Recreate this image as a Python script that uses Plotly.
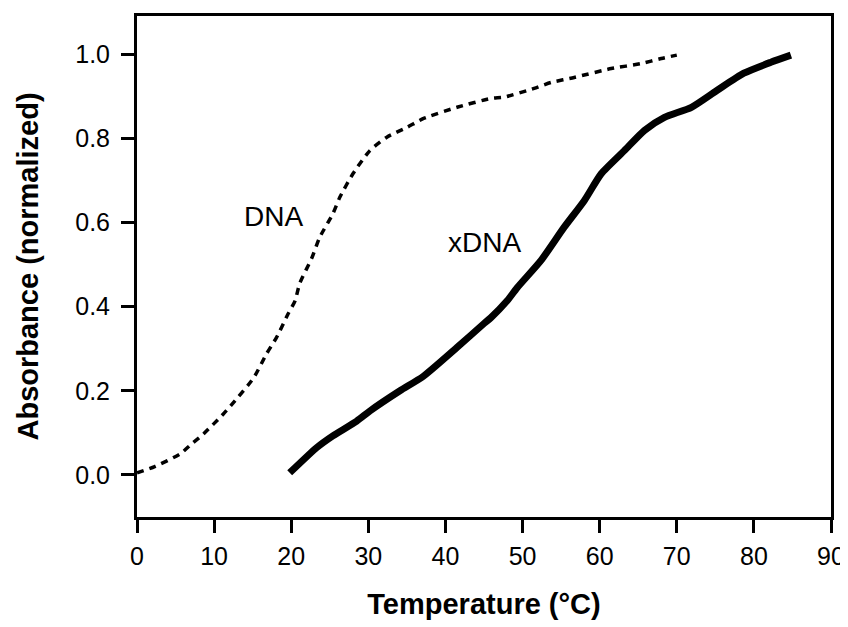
import plotly.graph_objects as go

# DNA melting curve (dashed)
dna_temp = [0.0, 2.3, 5.6, 7.1, 8.6, 11.2, 12.5, 15.1, 16.8, 18.1, 19.6, 20.5, 21.1, 22.7, 23.7,
            25.4, 26.3, 28.0, 30.2, 32.4, 35.0, 37.1, 41.5, 45.9, 47.6, 51.5, 53.7, 56.7, 61.5,
            65.4, 68.0, 70.0]
dna_abs = [0.005, 0.02, 0.05, 0.074, 0.097, 0.145, 0.172, 0.23, 0.288, 0.327, 0.383, 0.414, 0.455,
           0.517, 0.565, 0.621, 0.66, 0.716, 0.771, 0.803, 0.826, 0.847, 0.874, 0.895, 0.898,
           0.919, 0.933, 0.945, 0.966, 0.978, 0.99, 0.998]

# xDNA melting curve (thick solid)
xdna_temp = [19.8, 23.3, 25.4, 28.5, 30.2, 34.1, 37.1, 41.5, 45.0, 45.9, 48.0, 49.3, 52.4, 55.4,
             58.0, 60.2, 63.2, 65.8, 68.4, 71.9, 75.2, 78.7, 82.2, 84.8]
xdna_abs = [0.005, 0.065, 0.093, 0.128, 0.152, 0.2, 0.234, 0.303, 0.36, 0.374, 0.414, 0.445, 0.51,
            0.589, 0.652, 0.716, 0.771, 0.819, 0.85, 0.874, 0.914, 0.955, 0.981, 0.998]

x_ticks = [0, 10, 20, 30, 40, 50, 60, 70, 80, 90]
y_ticks = [0.0, 0.2, 0.4, 0.6, 0.8, 1.0]

FONT = "Liberation Sans, Arial, Helvetica, sans-serif"

fig = go.Figure()
fig.add_trace(go.Scatter(x=dna_temp, y=dna_abs, mode="lines", name="DNA",
                         line=dict(color="black", width=3.5, dash="7px,6px",
                                   shape="spline", smoothing=0.6)))
fig.add_trace(go.Scatter(x=xdna_temp, y=xdna_abs, mode="lines", name="xDNA",
                         line=dict(color="black", width=7, shape="spline", smoothing=0.6)))

fig.add_annotation(x=17.7, y=0.614, text="DNA", showarrow=False,
                   font=dict(family=FONT, size=28, color="black"))
fig.add_annotation(x=45.0, y=0.552, text="xDNA", showarrow=False,
                   font=dict(family=FONT, size=28, color="black"))

# page body has an 8px default margin, so the figure is sized/offset to compensate
fig.update_layout(
    width=840, height=619,
    margin=dict(l=129, r=17, t=8, b=110),
    paper_bgcolor="white", plot_bgcolor="white",
    showlegend=False,
    font=dict(family=FONT, color="black"),
)
fig.update_xaxes(range=[0, 90], tickvals=x_ticks, ticks="outside", ticklen=13, tickwidth=3,
                 tickcolor="black", showline=True, linewidth=3, linecolor="black", mirror=True,
                 showgrid=False, zeroline=False, automargin=False, ticklabelstandoff=2,
                 tickfont=dict(size=25),
                 title=dict(text="<b>Temperature (°C)</b>", font=dict(size=29), standoff=25))
fig.update_yaxes(range=[-0.1, 1.091], tickvals=y_ticks, tickformat=".1f", ticks="outside",
                 ticklen=13, tickwidth=3, tickcolor="black", showline=True, linewidth=3,
                 linecolor="black", mirror=True, showgrid=False, zeroline=False,
                 automargin=False, ticklabelstandoff=6,
                 tickfont=dict(size=25),
                 title=dict(text="<b>Absorbance (normalized)</b>", font=dict(size=29), standoff=29))

fig.write_html("out.html")
